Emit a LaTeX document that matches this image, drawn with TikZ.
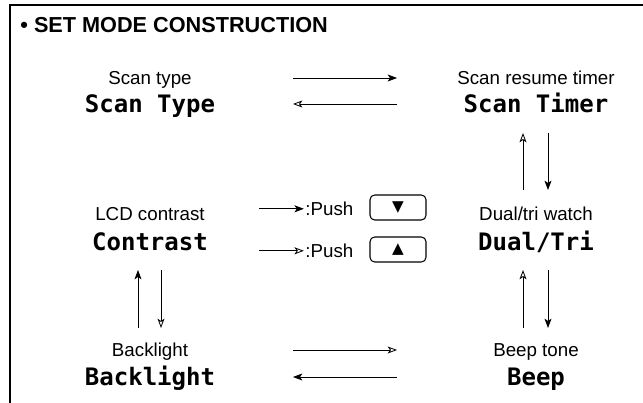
\documentclass[tikz,border=0pt]{standalone}
\usepackage{fontspec}
\setmainfont{Liberation Sans}
\newfontfamily\lcdfont{DejaVu Sans Mono}
\newfontfamily\symfont{DejaVu Sans}
\usetikzlibrary{arrows.meta,calc,positioning}

\tikzset{
  headline/.style={anchor=base west,inner sep=0pt,font=\bfseries\fontsize{18.5}{22}\selectfont},
  lbl/.style={anchor=base,inner sep=0pt,font=\fontsize{16}{19}\selectfont},
  lcd/.style={anchor=base,inner sep=0pt,font=\lcdfont\bfseries\fontsize{20.5}{24}\selectfont},
  fill tip/.style={-{Stealth[length=8pt,width=6pt,inset=2pt]}},
  open tip/.style={-{Stealth[open,length=8pt,width=6pt,inset=2pt]}},
  keybox/.style={draw,line width=0.9pt,rounded corners=4pt,minimum width=1.68cm,minimum height=0.75cm,inner sep=0pt,font=\symfont\fontsize{13}{15}\selectfont}
}

\begin{document}
\begin{tikzpicture}[x=0.03cm,y=-0.03cm,line width=0.7pt]
  \useasboundingbox (0,0) rectangle (643,403);
  % frame
  \draw[line width=1.4pt] (10,403) -- (10,5) -- (643,5);
  \node[headline] (head) at (20,32.5) {• SET MODE CONSTRUCTION};

  % left column
  \node[lbl] (typeLbl) at (150,85) {Scan type};
  \node[lcd] (typeLcd) at (150,113) {Scan Type};
  \node[lbl] (lcdLbl) at (150,221) {LCD contrast};
  \node[lcd] (lcdLcd) at (150,251) {Contrast};
  \node[lbl] (backLbl) at (150,357) {Backlight};
  \node[lcd] (backLcd) at (150,386) {Backlight};

  % right column
  \node[lbl] (timerLbl) at (536,85) {Scan resume timer};
  \node[lcd] (timerLcd) at (536,113) {Scan Timer};
  \node[lbl] (dualLbl) at (536,221) {Dual/tri watch};
  \node[lcd] (dualLcd) at (536,251) {Dual/Tri};
  \node[lbl] (beepLbl) at (536,357) {Beep tone};
  \node[lcd] (beepLcd) at (536,386) {Beep};

  % arrow columns
  \coordinate (gapL) at (293,0);
  \coordinate (gapR) at (397,0);
  \coordinate (upL) at (138,0);
  \coordinate (dnL) at (161,0);
  \coordinate (upR) at (523,0);
  \coordinate (dnR) at (548,0);

  % horizontal links
  \draw[fill tip] ($(typeLbl.base -| gapL)+(0,-7)$) -- ($(timerLbl.base -| gapR)+(0,-7)$);
  \draw[open tip] ($(timerLcd.base -| gapR)+(0,-9)$) -- ($(typeLcd.base -| gapL)+(0,-9)$);
  \draw[open tip] ($(backLbl.base -| gapL)+(0,-7)$) -- ($(beepLbl.base -| gapR)+(0,-7)$);
  \draw[fill tip] ($(beepLcd.base -| gapR)+(0,-9)$) -- ($(backLcd.base -| gapL)+(0,-9)$);

  % vertical links
  \draw[open tip] ($(dualLbl.base -| upR)+(0,-31)$) -- ($(timerLcd.base -| upR)+(0,20)$);
  \draw[fill tip] ($(timerLcd.base -| dnR)+(0,20)$) -- ($(dualLbl.base -| dnR)+(0,-31)$);
  \draw[open tip] ($(beepLbl.base -| upR)+(0,-29)$) -- ($(dualLcd.base -| upR)+(0,19)$);
  \draw[fill tip] ($(dualLcd.base -| dnR)+(0,19)$) -- ($(beepLbl.base -| dnR)+(0,-29)$);
  \draw[fill tip] ($(backLbl.base -| upL)+(0,-29)$) -- ($(lcdLcd.base -| upL)+(0,19)$);
  \draw[open tip] ($(lcdLcd.base -| dnL)+(0,19)$) -- ($(backLbl.base -| dnL)+(0,-29)$);

  % push legend
  \coordinate (pushL) at (259,0);
  \node[lbl,anchor=base west] (pushDn) at (305,215.5) {:Push};
  \node[lbl,anchor=base west] (pushUp) at (305,257.5) {:Push};
  \node[keybox] (keyDn) at (398,207.5) {▼};
  \node[keybox] (keyUp) at (398,249.5) {▲};
  \draw[fill tip,shorten >=1pt] (pushDn.west -| pushL) -- (pushDn.west);
  \draw[open tip,shorten >=1pt] (pushUp.west -| pushL) -- (pushUp.west);
\end{tikzpicture}
\end{document}
